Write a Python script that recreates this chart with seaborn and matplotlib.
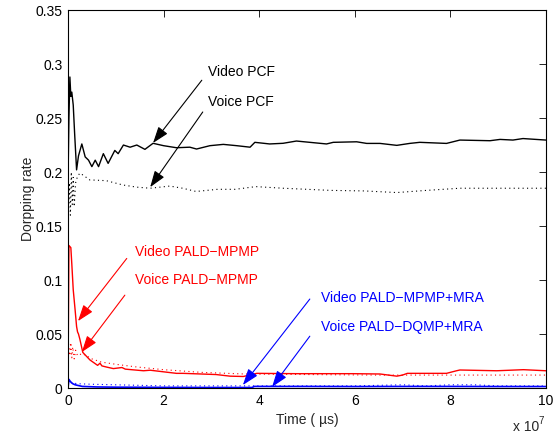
import matplotlib
matplotlib.use('Agg')
import matplotlib.pyplot as plt
import seaborn as sns

sns.set_style('white')
plt.rcParams['font.family'] = ['Liberation Sans', 'DejaVu Sans']

# time in units of 1e7 us
video_pcf_x = [0, 0.02, 0.04, 0.06, 0.08, 0.11, 0.14, 0.18, 0.22, 0.29, 0.36, 0.43, 0.50, 0.57, 0.64,
               0.74, 0.84, 0.98, 1.05, 1.16, 1.30, 1.44, 1.61, 1.78, 2.0, 2.27, 2.55, 2.69, 2.97, 3.25,
               3.53, 3.81, 3.91, 4.22, 4.5, 4.78, 5.06, 5.41, 5.55, 6.04, 6.25, 6.53, 6.88, 7.15, 7.36,
               7.92, 8.2, 8.83, 9.04, 9.31, 9.52, 10.0]
video_pcf_y = [0.19, 0.25, 0.288, 0.27, 0.274, 0.262, 0.235, 0.202, 0.215, 0.226, 0.214, 0.211, 0.205, 0.211, 0.205,
               0.217, 0.208, 0.220, 0.217, 0.225, 0.223, 0.225, 0.221, 0.2266, 0.2244, 0.2225, 0.223, 0.2213, 0.2244, 0.2256,
               0.2244, 0.223, 0.2275, 0.226, 0.2266, 0.2287, 0.2275, 0.226, 0.2275, 0.228, 0.2265, 0.2265, 0.2247, 0.2265, 0.2275,
               0.2265, 0.2296, 0.229, 0.2302, 0.2296, 0.231, 0.2296]

voice_pcf_x = [0, 0.03, 0.05, 0.07, 0.09, 0.11, 0.13, 0.16, 0.2, 0.25, 0.32, 0.46, 0.52, 0.8, 1.15,
               1.44, 1.72, 2.13, 2.4, 2.68, 3.13, 3.5, 3.93, 4.5, 4.85, 5.5, 6.2, 6.88, 7.5, 8.2, 9.0, 10.0]
voice_pcf_y = [0.15, 0.19, 0.16, 0.2, 0.17, 0.195, 0.168, 0.19, 0.196, 0.199, 0.197, 0.1926, 0.1926, 0.192, 0.188,
               0.186, 0.185, 0.187, 0.185, 0.182, 0.184, 0.184, 0.1865, 0.185, 0.1843, 0.183, 0.1825, 0.181, 0.183, 0.185,
               0.185, 0.185]

video_pald_x = [0, 0.02, 0.06, 0.08, 0.11, 0.15, 0.18, 0.2, 0.22, 0.25, 0.31, 0.46, 0.62, 0.67, 0.71,
                0.8, 0.95, 1.13, 1.2, 1.58, 1.72, 2.27, 2.41, 3.1, 3.39, 3.67, 3.95, 4.78, 5.96, 6.53,
                6.88, 7.0, 7.1, 7.92, 8.13, 8.2, 8.97, 9.53, 10.0]
video_pald_y = [0.0, 0.132, 0.13, 0.115, 0.091, 0.072, 0.057, 0.052, 0.05, 0.045, 0.033, 0.026, 0.021, 0.023, 0.0205,
                0.0195, 0.018, 0.019, 0.0175, 0.016, 0.0165, 0.0136, 0.0136, 0.0125, 0.011, 0.0107, 0.0136, 0.0133, 0.0133, 0.013,
                0.011, 0.012, 0.0136, 0.0136, 0.016, 0.0167, 0.016, 0.017, 0.016]

voice_pald_x = [0, 0.04, 0.06, 0.08, 0.1, 0.13, 0.16, 0.2, 0.3, 0.5, 0.7, 1.0, 1.4, 2.0, 2.8, 3.7, 5.0, 6.5, 8.0, 9.0, 10.0]
voice_pald_y = [0.045, 0.03, 0.042, 0.028, 0.038, 0.027, 0.035, 0.03, 0.032, 0.027, 0.024, 0.022, 0.0197, 0.017, 0.0145,
                0.013, 0.0125, 0.012, 0.012, 0.012, 0.012]

video_mra_x = [0, 0.02, 0.05, 0.1, 0.15, 0.3, 0.6, 1, 2, 3, 3.85, 3.9, 5, 6, 7, 8, 9, 10]
video_mra_y = [0, 0.008, 0.006, 0.004, 0.003, 0.0015, 0.001, 0.0008, 0.0006, 0.0005, 0.0005, 0.0015, 0.0015, 0.0014,
               0.0015, 0.0015, 0.0014, 0.0014]

voice_mra_x = [0, 0.05, 0.2, 0.5, 1, 1.5, 2, 3, 4, 5, 6, 7, 7.5, 8, 8.5, 9, 10]
voice_mra_y = [0.002, 0.005, 0.004, 0.0035, 0.003, 0.0025, 0.002, 0.002, 0.002, 0.002, 0.002, 0.003, 0.002, 0.003,
               0.003, 0.002, 0.002]

fig = plt.figure(figsize=(5.59, 4.36), dpi=100)
ax = fig.add_axes([0.1216, 0.110, 0.855, 0.867])

dot = (0, (1, 3))
sns.lineplot(x=video_pcf_x, y=video_pcf_y, color='k', lw=1.0, ax=ax, sort=False, estimator=None)
sns.lineplot(x=voice_pcf_x, y=voice_pcf_y, color='k', lw=0.8, linestyle=dot, ax=ax, sort=False, estimator=None)
sns.lineplot(x=video_pald_x, y=video_pald_y, color='red', lw=1.0, ax=ax, sort=False, estimator=None)
sns.lineplot(x=voice_pald_x, y=voice_pald_y, color='red', lw=0.8, linestyle=dot, ax=ax, sort=False, estimator=None)
sns.lineplot(x=video_mra_x, y=video_mra_y, color='blue', lw=1.2, ax=ax, sort=False, estimator=None)
sns.lineplot(x=voice_mra_x, y=voice_mra_y, color='blue', lw=0.8, linestyle=dot, ax=ax, sort=False, estimator=None)

ax.set_xlim(0, 10)
ax.set_ylim(0, 0.35)
ax.set_xticks([0, 2, 4, 6, 8, 10])
ax.set_xticklabels(['0', '2', '4', '6', '8', '10'])
ax.set_yticks([0, 0.05, 0.1, 0.15, 0.2, 0.25, 0.3, 0.35])
ax.set_yticklabels(['0', '0.05', '0.1', '0.15', '0.2', '0.25', '0.3', '0.35'])
ax.tick_params(direction='in', length=5, width=0.6, top=True, right=True, labelsize=10, colors='k', pad=4)
for s in ax.spines.values():
    s.set_color('k')
    s.set_linewidth(0.8)

ax.set_xlabel('Time ( \u00b5s)', fontsize=10, labelpad=4)
ax.set_ylabel('Dorpping rate', fontsize=10, labelpad=0)
ax.text(0.931, -0.103, 'x 10', transform=ax.transAxes, fontsize=10, va='center', ha='left')
ax.text(0.985, -0.088, '7', transform=ax.transAxes, fontsize=7, va='center', ha='left')


def note(txt, tx, ty, tail, head, c):
    ax.text(tx, ty, txt, color=c, fontsize=10, ha='left', va='center')
    ax.annotate('', xy=head, xytext=tail,
                arrowprops=dict(arrowstyle='-|>,head_length=1.0,head_width=0.35', color=c, lw=0.8,
                                shrinkA=0, shrinkB=0))


note('Video PCF', 2.93, 0.2926, (2.80, 0.285), (1.78, 0.2269), 'k')
note('Voice PCF', 2.93, 0.265, (2.82, 0.2556), (1.72, 0.186), 'k')
note('Video PALD\u2212MPMP', 1.40, 0.126, (1.23, 0.120), (0.21, 0.062), 'red')
note('Voice PALD\u2212MPMP', 1.40, 0.100, (1.19, 0.086), (0.29, 0.0333), 'red')
note('Video PALD\u2212MPMP+MRA', 5.29, 0.0833, (5.06, 0.0824), (3.66, 0.0028), 'blue')
note('Voice PALD\u2212DQMP+MRA', 5.29, 0.0565, (5.06, 0.048), (4.27, 0.001), 'blue')

fig.savefig('out.png', dpi=100)
